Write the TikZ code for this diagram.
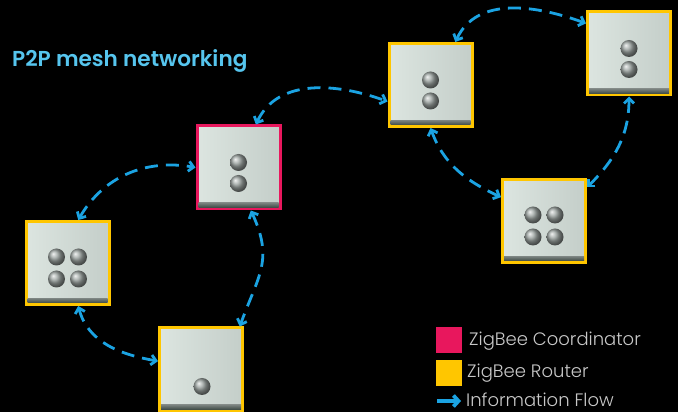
\documentclass[tikz,border=0pt]{standalone}
\usepackage{fontspec}
\setmainfont{Poppins}
\newfontfamily\titlefont{Poppins SemiBold}
\newfontfamily\legendfont{Poppins Light}
\usetikzlibrary{arrows.meta,calc}
\definecolor{zbpink}{HTML}{E8175D}
\definecolor{zbyellow}{HTML}{FFC600}
\definecolor{flowblue}{HTML}{1BA3E2}
\definecolor{titleblue}{HTML}{56C5EE}
\definecolor{legendgray}{HTML}{C8C8C8}
\definecolor{facel}{HTML}{DCE5E0}
\definecolor{facer}{HTML}{C4CEC9}
\definecolor{facebar}{HTML}{3E4A45}
\definecolor{knobmid}{HTML}{9BA3A0}
\tikzset{
  panel/.style={rectangle,minimum size=83pt,inner sep=0pt,line width=3pt,left color=facel,right color=facer},
  router/.style={panel,draw=zbyellow},
  coordinator/.style={panel,draw=zbpink},
  flow/.style={draw=flowblue,line width=2.8pt,dash pattern=on 13pt off 8pt,
    {Straight Barb[length=5pt,width=10pt]}-{Straight Barb[length=5pt,width=10pt]}},
  knob/.style={ball color=knobmid}
}
\begin{document}
\begin{tikzpicture}[x=1pt,y=1pt]
\fill[black] (0,0) rectangle (678,412);
\clip (0,0) rectangle (678,412);
\useasboundingbox (0,0) rectangle (678,412);
% title
\node[anchor=west,text=titleblue,font=\titlefont\fontsize{21.6}{24}\selectfont,inner sep=0pt] (title) at (12,351) {P2P mesh networking};
% switches
\node[coordinator] (coord) at (238.5,244.5) {};
\node[router] (lr) at (67.5,149) {};
\node[router] (br) at (201,42.5) {};
\node[router] (tm) at (430.5,327) {};
\node[router] (tr) at (629,358.5) {};
\node[router] (rm) at (544,191) {};
\foreach \n in {coord,lr,br,tm,tr,rm}
  \shade[top color=facebar!70,bottom color=facebar] ($(\n.south west)+(3,3)$) rectangle ($(\n.south east)+(-3,7.5)$);
\foreach \n in {coord,tm,tr}
  \foreach \dy in {5,-16}
    \shade[knob] ($(\n)+(0,\dy)$) circle (8.5);
\foreach \n in {lr,rm}
  \foreach \dx/\dy in {-11/6,11/6,-11/-16,11/-16}
    \shade[knob] ($(\n)+(\dx,\dy)$) circle (8.5);
\shade[knob] ($(br)+(1,-17)$) circle (8.5);
% information flow
\draw[flow] (lr.76) to[out=60,in=170] (coord.west);
\draw[flow] (lr.284) to[out=-75,in=170] (br.169);
\draw[flow] (coord.-74) to[out=-65,in=70,looseness=1.2] (br.48);
\draw[flow] (coord.68) to[out=65,in=160] (tm.201);
\draw[flow] (tm.60) to[out=65,in=160] (tr.145);
\draw[flow] (tm.south) to[out=-70,in=155] (rm.151);
\draw[flow] (tr.south) to[out=-90,in=45] (rm.38);
% legend
\node[fill=zbpink,minimum size=26pt,inner sep=0pt] (keycoord) at (449,72) {};
\node[fill=zbyellow,minimum size=26pt,inner sep=0pt] (keyrouter) at (449,39) {};
\coordinate (keyflowa) at (437,11);
\coordinate (keyflowb) at (461,11);
\draw[flowblue,line width=3.8pt,-{Straight Barb[length=5pt,width=11pt]}] (keyflowa) -- (keyflowb);
\begin{scope}[every node/.style={anchor=west,text=legendgray,font=\legendfont\fontsize{18}{21}\selectfont,inner sep=0pt}]
\node (txtcoord) at (469,71) {ZigBee Coordinator};
\node (txtrouter) at (467,39) {ZigBee Router};
\node (txtflow) at (466,12) {Information Flow};
\end{scope}
\end{tikzpicture}
\end{document}
